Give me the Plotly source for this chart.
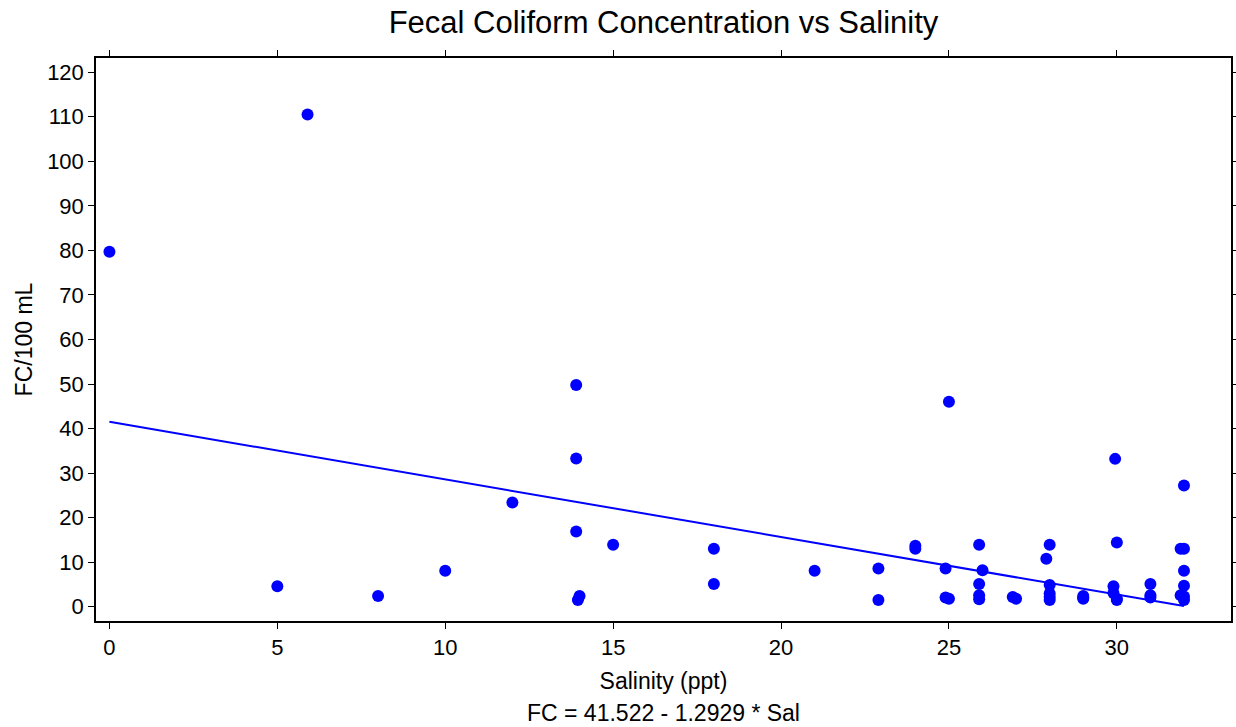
import plotly.graph_objects as go

salinity = [0.0, 5.9, 5.0, 8.0, 10.0, 12.0, 13.9, 13.9, 13.9, 14.0, 13.95,
            15.0, 18.0, 18.0, 21.0, 22.9, 22.9, 24.0, 24.0, 25.0, 24.9, 24.9,
            25.0, 25.9, 26.0, 25.9, 25.9, 25.9, 26.9, 27.0, 28.0, 27.9, 28.0,
            28.0, 28.0, 28.0, 29.0, 29.0, 29.0, 29.95, 30.0, 29.9, 29.9, 30.0,
            30.0, 31.0, 31.0, 31.0, 32.0, 31.9, 32.0, 32.0, 32.0, 31.9, 32.0, 32.0]
fc = [79.7, 110.5, 4.6, 2.4, 8.1, 23.4, 49.8, 33.3, 16.9, 2.4, 1.5,
      13.9, 13.0, 5.1, 8.1, 8.6, 1.5, 13.7, 13.0, 46.0, 8.6, 2.1,
      1.8, 13.9, 8.2, 5.1, 2.6, 1.7, 2.2, 1.8, 13.9, 10.8, 4.9,
      3.0, 2.2, 1.5, 2.4, 2.1, 1.8, 33.2, 14.4, 4.6, 3.1, 1.8,
      1.5, 5.1, 2.6, 2.1, 27.2, 13.0, 13.0, 8.1, 4.7, 2.6, 2.3, 1.5]

intercept = 41.522
slope = -1.2929
x_ticks = [0, 5, 10, 15, 20, 25, 30]
y_ticks = list(range(0, 130, 10))

line_x = [min(salinity), max(salinity)]
line_y = [intercept + slope * v for v in line_x]

FONT = "Liberation Sans, Arial, sans-serif"

fig = go.Figure()
fig.add_trace(go.Scatter(x=salinity, y=fc, mode="markers",
                         marker=dict(color="#0000FF", size=12, line=dict(width=0)),
                         showlegend=False))
fig.add_trace(go.Scatter(x=line_x, y=line_y, mode="lines",
                         line=dict(color="#0000FF", width=2), showlegend=False))

axis_common = dict(showgrid=False, zeroline=False, showline=True, linecolor="black",
                   linewidth=1.5, mirror="ticks", ticks="outside", ticklen=6,
                   tickwidth=1.2, tickcolor="black", automargin=False,
                   tickfont=dict(family=FONT, size=22, color="black"))

fig.update_layout(
    width=1236, height=727,
    margin=dict(l=96, r=5, t=58, b=106),
    paper_bgcolor="white", plot_bgcolor="white",
    font=dict(family=FONT, color="black"),
    title=dict(text="Fecal Coliform Concentration vs Salinity",
               font=dict(family=FONT, size=31, color="black"),
               x=(96 + 1231) / 2 / 1236, xanchor="center",
               y=1 - 22 / 727, yanchor="middle"),
    xaxis=dict(range=[-0.4, 33.4], tickvals=x_ticks,
               title=dict(text="Salinity (ppt)", font=dict(family=FONT, size=23), standoff=14),
               **axis_common),
    yaxis=dict(range=[-3.2, 123.2], tickvals=y_ticks,
               title=dict(text="FC/100 mL", font=dict(family=FONT, size=23), standoff=8),
               **axis_common),
    annotations=[dict(text="FC = 41.522 - 1.2929 * Sal", xref="paper", yref="paper",
                      x=0.5, y=0, yshift=-92, xanchor="center", yanchor="middle",
                      showarrow=False, font=dict(family=FONT, size=23, color="black"))],
)

fig.write_html("out.html")
